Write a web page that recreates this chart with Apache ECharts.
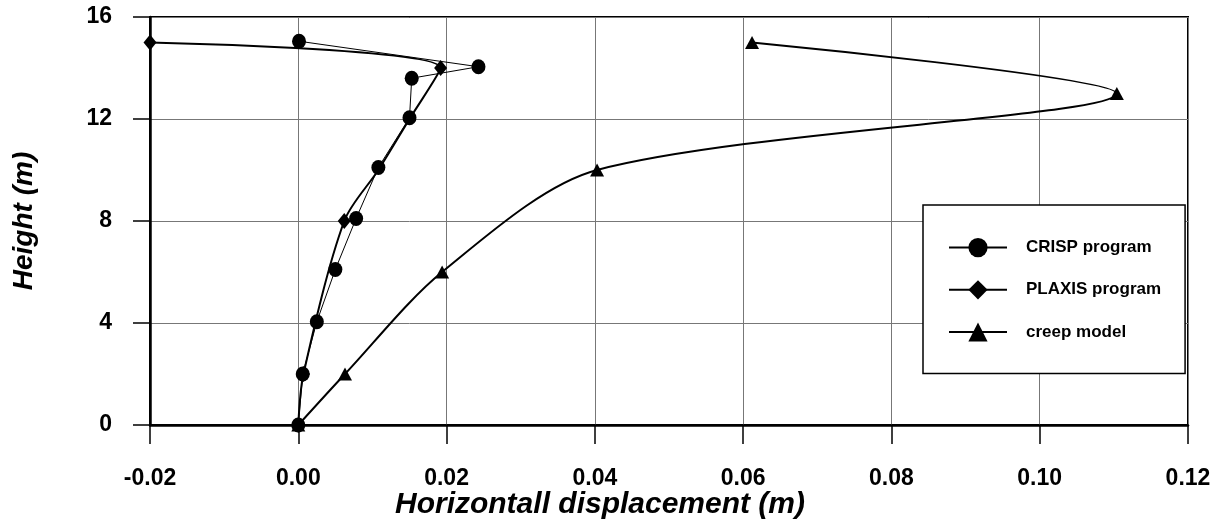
<!DOCTYPE html>
<html><head><meta charset="utf-8">
<script src="https://cdn.jsdelivr.net/npm/echarts@6/dist/echarts.min.js"></script>
<style>html,body{margin:0;padding:0;background:#fff}#c{width:1224px;height:524px}</style>
</head><body><div id="c"></div>
<script>
// ---- data ----
const crispX = [0.0000, 0.0006, 0.0025, 0.0050, 0.0078, 0.0108, 0.0150, 0.0153, 0.0243, 0.0001];
const crispY = [0.00, 2.00, 4.05, 6.10, 8.10, 10.10, 12.05, 13.60, 14.05, 15.05];
const plaxisX = [0.0000, 0.0007, 0.0062, 0.0108, 0.0150, 0.0192, -0.0200];
const plaxisY = [0.0, 2.0, 8.0, 10.0, 12.0, 14.0, 15.0];
const plaxisMarked = [true, true, true, false, false, true, true];
const creepX = [0.0000, 0.0063, 0.0194, 0.0403, 0.1104, 0.0612];
const creepY = [0.0, 2.0, 6.0, 10.0, 13.0, 15.0];
const seriesNames = ['CRISP program', 'PLAXIS program', 'creep model'];
const xRange = [-0.02, 0.12, 0.02];
const yRange = [0, 16, 4];
const xTitle = 'Horizontall displacement (m)';
const yTitle = 'Height (m)';

const FONT = '"Liberation Sans", Arial, sans-serif';
const pairs = (xs, ys) => xs.map((x, i) => [x, ys[i]]);
const plaxisData = plaxisX.map((x, i) => plaxisMarked[i] ? [x, plaxisY[i]] : {value: [x, plaxisY[i]], symbol: 'none'});

const chart = echarts.init(document.getElementById('c'), null, {renderer: 'canvas'});
chart.setOption({
  animation: false,
  backgroundColor: '#fff',
  grid: {left: 150, right: 36, top: 17, bottom: 99, show: true, borderColor: '#000', borderWidth: 2,
         backgroundColor: 'transparent', containLabel: false, outerBoundsMode: 'none'},
  xAxis: {
    type: 'value', min: xRange[0], max: xRange[1], interval: xRange[2],
    name: xTitle, nameLocation: 'middle', nameGap: 65, nameMoveOverlap: false,
    nameTextStyle: {fontFamily: FONT, fontSize: 30, fontWeight: 'bold', fontStyle: 'italic', color: '#000', padding: [0, 138, 0, 0]},
    axisLine: {show: true, onZero: false, lineStyle: {color: '#000', width: 2.5}},
    axisTick: {show: true, inside: false, length: 19, lineStyle: {color: '#000', width: 1.5}},
    axisLabel: {margin: 42, fontFamily: FONT, fontSize: 23, fontWeight: 'bold', color: '#000', formatter: v => v.toFixed(2)},
    splitLine: {show: true, lineStyle: {color: '#777', width: 1}}
  },
  yAxis: {
    type: 'value', min: yRange[0], max: yRange[1], interval: yRange[2],
    name: yTitle, nameLocation: 'middle', nameGap: 112, nameRotate: 90,
    nameTextStyle: {fontFamily: FONT, fontSize: 28, fontWeight: 'bold', fontStyle: 'italic', color: '#000'},
    axisLine: {show: true, onZero: false, lineStyle: {color: '#000', width: 2.5}},
    axisTick: {show: true, inside: false, length: 17, lineStyle: {color: '#000', width: 1.5}},
    axisLabel: {margin: 38, fontFamily: FONT, fontSize: 23, fontWeight: 'bold', color: '#000'},
    splitLine: {show: true, lineStyle: {color: '#777', width: 1}}
  },
  legend: {
    orient: 'vertical', left: 923, top: 205,
    itemWidth: 58, itemHeight: 24, itemGap: 23,
    padding: [33, 24, 32, 25],
    backgroundColor: '#fff', borderColor: '#000', borderWidth: 1.5,
    textStyle: {fontFamily: FONT, fontSize: 17, fontWeight: 'bold', color: '#000', padding: [0, 0, 0, 14]},
    data: seriesNames
  },
  series: [
    {
      name: seriesNames[1], type: 'line', data: plaxisData, smooth: 0.3,
      symbol: 'diamond', symbolSize: [13, 16], showAllSymbol: true,
      lineStyle: {color: '#000', width: 2}, itemStyle: {color: '#000'}, z: 2
    },
    {
      name: seriesNames[0], type: 'line', data: pairs(crispX, crispY), smooth: false,
      symbol: 'circle', symbolSize: [14, 15], showAllSymbol: true,
      lineStyle: {color: '#000', width: 1}, itemStyle: {color: '#000'}, z: 3
    },
    {
      name: seriesNames[2], type: 'line', data: pairs(creepX, creepY), smooth: 0.3,
      symbol: 'triangle', symbolSize: [14, 13], showAllSymbol: true,
      lineStyle: {color: '#000', width: 2}, itemStyle: {color: '#000'}, z: 3
    }
  ]
});
</script></body></html>
